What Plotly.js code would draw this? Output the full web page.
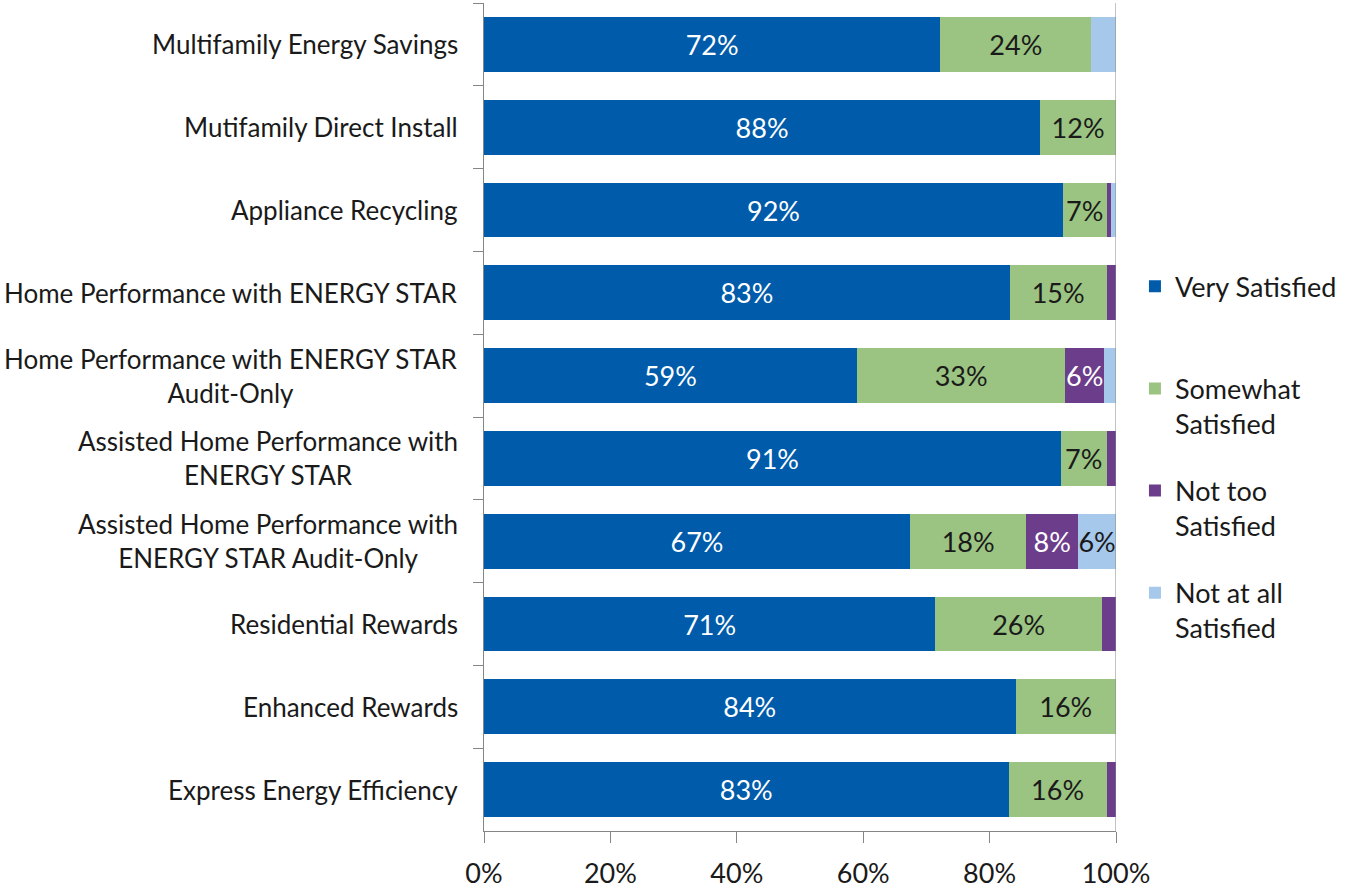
<!DOCTYPE html>
<html>
<head>
<meta charset="utf-8">
<script src="https://cdn.plot.ly/plotly-3.0.1.min.js"></script>
<style>html,body{margin:0;padding:0;background:#fff;}#chart{width:1358px;height:888px;}</style>
</head>
<body>
<div id="chart"></div>
<script>
var categories = [
  "Multifamily Energy Savings",
  "Mutifamily Direct Install",
  "Appliance Recycling",
  "Home Performance with ENERGY STAR",
  "Home Performance with ENERGY STAR<br>Audit-Only",
  "Assisted Home Performance with<br>ENERGY STAR",
  "Assisted Home Performance with<br>ENERGY STAR Audit-Only",
  "Residential Rewards",
  "Enhanced Rewards",
  "Express Energy Efficiency"
];
var seriesNames = ["Very Satisfied<br> ", "Somewhat<br>Satisfied", "Not too<br>Satisfied", "Not at all<br>Satisfied"];
var verySatisfied      = [72.2, 88.0, 91.6, 83.2, 59.0, 91.3, 67.4, 71.4, 84.1, 83.0];
var somewhatSatisfied  = [23.9, 12.0, 6.9, 15.3, 33.0, 7.2, 18.4, 26.4, 15.9, 15.5];
var notTooSatisfied    = [0, 0, 0.7, 1.5, 6.1, 1.5, 8.2, 2.2, 0, 1.5];
var notAtAllSatisfied  = [3.9, 0, 0.8, 0, 1.9, 0, 6.0, 0, 0, 0];
var veryLabels     = ["72%", "88%", "92%", "83%", "59%", "91%", "67%", "71%", "84%", "83%"];
var somewhatLabels = ["24%", "12%", "7%", "15%", "33%", "7%", "18%", "26%", "16%", "16%"];
var notTooLabels   = ["", "", "", "", "6%", "", "8%", "", "", ""];
var notAtAllLabels = ["", "", "", "", "", "", "6%", "", "", ""];
var xTickVals = [0, 0.2, 0.4, 0.6, 0.8, 1.0];
var xTickText = ["0%", "20%", "40%", "60%", "80%", "100%"];

var colors = ["#005BAA", "#9BC482", "#6C3D8B", "#A6C8EA"];
var textColors = ["#ffffff", "#1a1a1a", "#ffffff", "#1a1a1a"];
var values = [verySatisfied, somewhatSatisfied, notTooSatisfied, notAtAllSatisfied];
var labels = [veryLabels, somewhatLabels, notTooLabels, notAtAllLabels];
var FONT = "Lato, 'Open Sans', sans-serif";

var traces = values.map(function (vals, i) {
  return {
    type: "bar",
    orientation: "h",
    name: seriesNames[i],
    legendgroup: "g" + i,
    y: categories,
    x: vals.map(function (v) { return v / 100; }),
    text: labels[i],
    textposition: "inside",
    insidetextanchor: "middle",
    textangle: 0,
    constraintext: "none",
    textfont: { family: FONT, size: 27, color: textColors[i] },
    marker: { color: colors[i], line: { width: 0 } },
    hoverinfo: "name+x"
  };
});

var catAnnotations = categories.map(function (c) {
  return {
    text: c,
    xref: "paper", yref: "y",
    x: 0, y: c,
    xanchor: "right", yanchor: "middle",
    xshift: -24,
    align: "center",
    showarrow: false,
    font: { family: FONT, size: 26, color: "#1a1a1a" }
  };
});

var layout = {
  width: 1358,
  height: 888,
  margin: { l: 484, r: 242, t: 3, b: 57 },
  paper_bgcolor: "#ffffff",
  plot_bgcolor: "#ffffff",
  barmode: "stack",
  bargap: 0.34,
  font: { family: FONT, size: 26, color: "#1a1a1a" },
  xaxis: {
    range: [0, 1],
    tickvals: xTickVals,
    ticktext: xTickText,
    showgrid: false,
    zeroline: false,
    showline: true,
    linecolor: "#868686",
    linewidth: 1,
    ticks: "outside",
    ticklen: 11,
    tickcolor: "#868686",
    ticklabelstandoff: 8,
    tickfont: { family: FONT, size: 27, color: "#1a1a1a" }
  },
  yaxis: {
    autorange: "reversed",
    type: "category",
    showgrid: false,
    zeroline: false,
    showline: true,
    linecolor: "#868686",
    linewidth: 1,
    ticks: "outside",
    tickson: "boundaries",
    ticklen: 10,
    tickcolor: "#868686",
    showticklabels: false
  },
  annotations: catAnnotations,
  shapes: [{
    type: "line", xref: "x", yref: "paper",
    x0: 1, x1: 1, y0: 0, y1: 1,
    line: { color: "#868686", width: 1 }
  }],
  legend: {
    x: 1.03, xanchor: "left",
    y: 0.687, yanchor: "top",
    traceorder: "grouped",
    tracegroupgap: 29,
    valign: "top",
    font: { family: FONT, size: 27, color: "#1a1a1a" },
    itemwidth: 30
  },
  showlegend: true
};

Plotly.newPlot("chart", traces, layout, { displayModeBar: false, staticPlot: true });
</script>
</body>
</html>
